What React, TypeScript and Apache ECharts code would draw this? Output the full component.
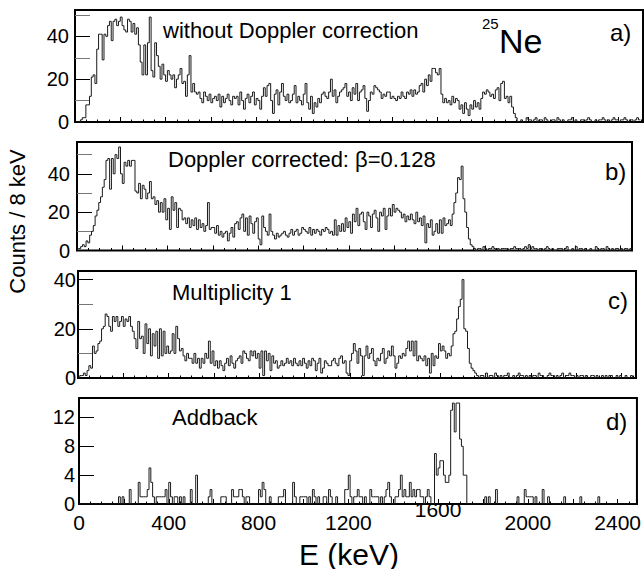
import React, { useEffect, useRef } from 'react';
import * as echarts from 'echarts';

const BIN_WIDTH = 8; // keV per bin

// a) without Doppler correction (counts per 8 keV bin, starting at 0 keV)
const COUNTS_A = [
  0, 0, 0, 1, 2, 2, 8, 8, 12, 21,
  22, 18, 34, 41, 41, 29, 41, 40, 45, 47,
  38, 47, 48, 45, 47, 49, 45, 43, 42, 48,
  47, 42, 46, 41, 44, 36, 28, 22, 36, 22,
  37, 49, 24, 21, 37, 31, 26, 20, 27, 22,
  19, 24, 22, 20, 22, 16, 20, 22, 25, 18,
  19, 12, 22, 31, 14, 18, 14, 13, 14, 11,
  9, 14, 12, 10, 13, 9, 11, 12, 10, 13,
  7, 12, 9, 11, 13, 10, 8, 12, 11, 12,
  8, 14, 10, 6, 11, 13, 9, 12, 14, 8,
  11, 10, 6, 12, 16, 12, 17, 18, 10, 4,
  13, 15, 8, 14, 18, 12, 10, 13, 9, 10,
  13, 17, 9, 12, 10, 8, 13, 18, 9, 6,
  12, 4, 9, 7, 11, 9, 13, 14, 12, 11,
  14, 20, 12, 15, 9, 12, 14, 15, 16, 18,
  12, 14, 10, 16, 13, 18, 10, 14, 15, 17,
  11, 5, 10, 14, 13, 17, 16, 15, 14, 11,
  13, 12, 14, 14, 11, 12, 11, 10, 12, 11,
  14, 12, 11, 14, 13, 15, 12, 15, 13, 14,
  17, 18, 14, 20, 17, 22, 19, 25, 25, 23,
  22, 25, 13, 9, 11, 9, 10, 8, 12, 9,
  11, 10, 6, 8, 4, 9, 6, 3, 8, 6,
  10, 7, 9, 6, 11, 14, 13, 15, 14, 12,
  13, 11, 15, 16, 10, 18, 19, 11, 12, 9,
  12, 7, 4, 2, 0, 0, 1, 0, 0, 2,
  1, 1, 0, 1, 2, 0, 1, 1, 0, 2,
  1, 0, 0, 1, 1, 0, 2, 1, 0, 1,
  0, 0, 1, 1, 2, 0, 1, 0, 0, 1,
  1, 0, 1, 2, 1, 0, 0, 1, 0, 1,
  1, 2, 1, 0, 1, 0, 1, 2, 1, 1,
  0, 1, 1, 2, 1, 0, 1, 1, 0, 1,
  2, 1,
];

// b) Doppler corrected, beta = 0.128
const COUNTS_B = [
  1, 1, 2, 3, 2, 5, 4, 8, 10, 13,
  18, 21, 25, 28, 33, 37, 47, 48, 32, 48,
  40, 50, 48, 54, 40, 35, 46, 44, 47, 44,
  47, 47, 31, 30, 35, 27, 34, 32, 27, 30,
  36, 27, 28, 24, 26, 20, 25, 20, 27, 16,
  22, 11, 28, 21, 25, 12, 22, 21, 16, 17,
  14, 17, 12, 16, 13, 17, 11, 16, 12, 14,
  10, 13, 25, 11, 12, 12, 9, 13, 8, 10,
  7, 9, 10, 5, 9, 12, 7, 14, 15, 11,
  17, 19, 10, 17, 8, 18, 14, 9, 15, 17,
  6, 3, 18, 12, 10, 8, 19, 10, 8, 6,
  9, 7, 8, 9, 10, 8, 7, 9, 11, 8,
  10, 11, 8, 9, 12, 11, 10, 9, 12, 8,
  11, 9, 11, 10, 8, 11, 10, 12, 11, 9,
  10, 8, 16, 8, 13, 10, 14, 10, 17, 12,
  15, 9, 19, 15, 22, 13, 19, 20, 15, 11,
  20, 18, 12, 19, 21, 17, 10, 20, 18, 22,
  11, 18, 22, 18, 24, 20, 22, 21, 20, 17,
  19, 15, 18, 16, 19, 16, 14, 20, 15, 17,
  13, 18, 4, 14, 12, 16, 8, 10, 14, 9,
  16, 9, 17, 13, 14, 16, 13, 19, 25, 30,
  38, 37, 44, 27, 20, 12, 6, 3, 2, 1,
  0, 1, 1, 0, 2, 1, 0, 1, 1, 2,
  1, 0, 1, 0, 1, 1, 1, 1, 0, 1,
  1, 2, 1, 1, 1, 0, 1, 2, 1, 3,
  1, 2, 1, 1, 0, 1, 1, 0, 1, 2,
  1, 0, 1, 0, 0, 1, 1, 1, 0, 1,
  2, 0, 0, 1, 0, 2, 0, 1, 1, 0,
  1, 0, 0, 1, 0, 0, 2, 1, 0, 1,
  1, 0, 2, 1, 0, 1, 0, 1, 1, 0,
  1, 0, 1, 1, 0, 1,
];

// c) Multiplicity 1
const COUNTS_C = [
  0, 1, 1, 2, 1, 3, 5, 4, 13, 10,
  11, 14, 15, 20, 21, 26, 25, 21, 19, 25,
  23, 25, 21, 23, 25, 21, 24, 23, 25, 21,
  19, 16, 12, 23, 16, 17, 10, 22, 14, 20,
  9, 18, 13, 19, 8, 20, 9, 19, 10, 13,
  10, 11, 18, 10, 21, 16, 11, 12, 9, 7,
  10, 8, 8, 6, 10, 6, 8, 4, 8, 6,
  10, 8, 15, 6, 11, 5, 7, 4, 7, 5,
  3, 6, 8, 5, 9, 6, 4, 7, 8, 9,
  6, 11, 10, 8, 7, 11, 9, 11, 8, 10,
  4, 11, 1, 11, 7, 10, 3, 9, 6, 7,
  4, 5, 7, 5, 6, 8, 6, 7, 5, 8,
  6, 5, 7, 5, 8, 6, 4, 7, 5, 8,
  7, 3, 6, 8, 2, 4, 7, 6, 5, 5,
  7, 8, 6, 5, 8, 9, 6, 7, 2, 1,
  7, 10, 14, 11, 6, 12, 9, 1, 9, 13,
  8, 10, 12, 7, 5, 8, 7, 10, 12, 6,
  8, 11, 9, 13, 9, 4, 6, 9, 8, 10,
  9, 12, 15, 11, 15, 9, 15, 7, 9, 8,
  7, 9, 5, 8, 2, 10, 5, 9, 8, 14,
  11, 13, 11, 8, 10, 9, 13, 18, 19, 24,
  29, 32, 40, 20, 19, 12, 6, 4, 3, 2,
  1, 0, 1, 1, 0, 2, 0, 1, 1, 0,
  2, 1, 0, 1, 0, 1, 1, 2, 0, 0,
  1, 0, 1, 2, 1, 1, 0, 1, 0, 1,
  0, 1, 1, 0, 2, 1, 1, 0, 0, 1,
  2, 1, 1, 0, 1, 0, 1, 2, 0, 1,
  1, 2, 1, 1, 0, 1, 0, 1, 1, 0,
  1, 0, 0, 1, 1, 0, 1, 0, 0, 1,
  0, 1, 0, 1, 1, 0, 0, 1, 0, 1,
  0, 0, 1, 0, 0, 1, 0, 0,
];

// d) Addback
const COUNTS_D = [
  0, 0, 0, 0, 0, 0, 0, 0, 0, 0,
  0, 0, 0, 0, 0, 0, 0, 0, 0, 0,
  0, 0, 1, 0, 1, 0, 0, 0, 2, 0,
  0, 0, 0, 3, 1, 1, 1, 1, 2, 5,
  3, 1, 0, 1, 1, 1, 1, 1, 2, 0,
  3, 1, 0, 1, 1, 0, 1, 0, 1, 0,
  0, 0, 2, 0, 0, 4, 0, 0, 0, 0,
  0, 0, 1, 2, 0, 0, 0, 0, 0, 1,
  1, 1, 0, 0, 0, 2, 1, 1, 1, 2,
  2, 1, 0, 1, 1, 0, 0, 0, 0, 0,
  2, 1, 3, 2, 0, 0, 1, 0, 0, 0,
  0, 1, 1, 1, 2, 0, 0, 0, 0, 3,
  1, 0, 0, 1, 1, 1, 1, 0, 1, 0,
  2, 1, 0, 1, 0, 0, 1, 1, 0, 2,
  1, 0, 0, 1, 0, 0, 0, 0, 2, 2,
  4, 1, 0, 1, 1, 2, 1, 1, 0, 1,
  0, 0, 2, 1, 1, 1, 1, 0, 1, 0,
  1, 2, 3, 1, 0, 0, 1, 1, 2, 4,
  1, 2, 1, 1, 3, 1, 2, 1, 2, 2,
  1, 1, 0, 1, 2, 1, 0, 0, 7, 4,
  5, 6, 6, 4, 3, 3, 4, 13, 14, 10,
  14, 14, 9, 8, 4, 4, 0, 0, 0, 0,
  0, 0, 0, 0, 0, 0, 1, 0, 1, 0,
  0, 0, 2, 0, 0, 0, 0, 0, 0, 0,
  0, 0, 0, 0, 1, 0, 0, 0, 2, 1,
  1, 1, 1, 0, 1, 0, 0, 0, 2, 0,
  0, 1, 0, 0, 0, 0, 0, 0, 0, 0,
  1, 0, 0, 0, 0, 0, 0, 0, 0, 1,
  0, 0, 0, 0, 0, 0, 0, 0, 0, 1,
  0, 0, 0, 0, 0, 0, 0, 0, 0, 0,
  0, 0, 0, 0, 0, 0, 0, 0, 0, 0,
  0,
];

const X_LABEL_STEP = 400;
const X_RAISED_LABEL = 1600;
const PANEL_TITLES = ['without Doppler correction', 'Doppler corrected: β=0.128', 'Multiplicity 1', 'Addback'];
const PANEL_TAGS = ['a)', 'b)', 'c)', 'd)'];
const NUCLEUS_MASS = '25';
const NUCLEUS_SYMBOL = 'Ne';
const Y_TITLE = 'Counts / 8 keV';
const X_TITLE = 'E (keV)';

const FONT = '"Liberation Sans", Arial, Helvetica, sans-serif';

const PANELS = [
  { counts: COUNTS_A, left: 75, top: 10, width: 568, height: 112, xMax: 2508, yMax: 52.3, yMinor: 10, yMajor: 20, labelMargin: 6, titleX: 163, titleY: 30, tagX: 610, tagY: 32 },
  { counts: COUNTS_B, left: 77, top: 142, width: 555, height: 108.5, xMax: 2450, yMax: 56.6, yMinor: 10, yMajor: 20, labelMargin: 7, titleX: 168, titleY: 159, tagX: 605, tagY: 171 },
  { counts: COUNTS_C, left: 78, top: 271, width: 558, height: 107, xMax: 2464, yMax: 43.5, yMinor: 10, yMajor: 20, labelMargin: 2, titleX: 172, titleY: 292, tagX: 608, tagY: 300 },
  { counts: COUNTS_D, left: 79, top: 398, width: 563, height: 106, xMax: 2486, yMax: 14.7, yMinor: 4, yMajor: 4, labelMargin: 4, titleX: 172, titleY: 417, tagX: 606, tagY: 421 },
];

function buildOption() {
  const grid: any[] = [];
  const xAxis: any[] = [];
  const yAxis: any[] = [];
  const series: any[] = [];
  const graphic: any[] = [];

  PANELS.forEach((p, i) => {
    const isLast = i === PANELS.length - 1;
    grid.push({
      left: p.left, top: p.top, width: p.width, height: p.height,
      show: true, borderColor: '#000', borderWidth: 2, backgroundColor: 'transparent',
    });
    // minor x ticks (50 keV)
    const xMinorIdx = xAxis.length;
    xAxis.push({
      gridIndex: i, type: 'value', min: 0, max: p.xMax, interval: 50, position: 'bottom',
      axisLine: { show: false }, splitLine: { show: false },
      axisTick: { show: true, inside: true, length: 2.5, lineStyle: { color: '#000', width: 1 } },
      axisLabel: { show: false },
    });
    // major x ticks (200 keV) + labels
    xAxis.push({
      gridIndex: i, type: 'value', min: 0, max: p.xMax, interval: 200, position: 'bottom',
      axisLine: { show: false }, splitLine: { show: false },
      axisTick: { show: true, inside: true, length: 5, lineStyle: { color: '#000', width: 1 } },
      axisLabel: isLast
        ? {
            show: true, fontSize: 21, fontFamily: FONT, color: '#000', margin: 8,
            formatter: (v: number) => (v % X_LABEL_STEP === 0 && v !== X_RAISED_LABEL ? String(v) : ''),
          }
        : { show: false },
    });
    if (isLast) {
      xAxis.push({
        gridIndex: i, type: 'value', min: 0, max: p.xMax, interval: X_LABEL_STEP, position: 'bottom',
        axisLine: { show: false }, splitLine: { show: false }, axisTick: { show: false },
        axisLabel: {
          show: true, fontSize: 21, fontFamily: FONT, color: '#000', margin: -5,
          formatter: (v: number) => (v === X_RAISED_LABEL ? String(v) : ''),
        },
      });
    }
    // y axes
    if (p.yMinor !== p.yMajor) {
      yAxis.push({
        gridIndex: i, type: 'value', min: 0, max: p.yMax, interval: p.yMinor, position: 'left',
        axisLine: { show: false }, splitLine: { show: false },
        axisTick: { show: true, inside: true, length: 15, lineStyle: { color: '#777', width: 1 } },
        axisLabel: { show: false },
      });
    }
    const yMajorIdx = yAxis.length;
    yAxis.push({
      gridIndex: i, type: 'value', min: 0, max: p.yMax, interval: p.yMajor, position: 'left',
      axisLine: { show: false }, splitLine: { show: false },
      axisTick: { show: true, inside: true, length: 15, lineStyle: { color: '#000', width: 1 } },
      axisLabel: {
        show: true, fontSize: 20, fontFamily: FONT, color: '#000', margin: p.labelMargin,
        formatter: (v: number) => (Math.abs(v % p.yMajor) < 1e-6 ? String(v) : ''),
      },
    });

    const data: number[][] = p.counts.map((c, k) => [k * BIN_WIDTH, c]);
    data.push([p.counts.length * BIN_WIDTH, p.counts[p.counts.length - 1]]);
    series.push({
      type: 'line', xAxisIndex: xMinorIdx, yAxisIndex: yMajorIdx, data,
      step: 'end', symbol: 'none', showSymbol: false, silent: true, clip: true,
      lineStyle: { color: '#1a1a1a', width: 1 },
    });

    graphic.push({
      type: 'text', x: p.titleX, y: p.titleY, silent: true,
      style: { text: PANEL_TITLES[i], fontSize: 22, fontFamily: FONT, fill: '#000', align: 'left', verticalAlign: 'middle' },
    });
    graphic.push({
      type: 'text', x: p.tagX, y: p.tagY, silent: true,
      style: { text: PANEL_TAGS[i], fontSize: 24, fontFamily: FONT, fill: '#000', align: 'left', verticalAlign: 'middle' },
    });
  });

  graphic.push({
    type: 'text', x: 482, y: 23, silent: true,
    style: { text: NUCLEUS_MASS, fontSize: 15, fontFamily: FONT, fill: '#000', align: 'left', verticalAlign: 'middle' },
  });
  graphic.push({
    type: 'text', x: 499, y: 41, silent: true,
    style: { text: NUCLEUS_SYMBOL, fontSize: 34, fontFamily: FONT, fill: '#000', align: 'left', verticalAlign: 'middle' },
  });
  graphic.push({
    type: 'text', x: 17.5, y: 221.5, rotation: Math.PI / 2, silent: true,
    style: { text: Y_TITLE, fontSize: 22, fontFamily: FONT, fill: '#000', align: 'center', verticalAlign: 'middle' },
  });
  graphic.push({
    type: 'text', x: 349, y: 554, silent: true,
    style: { text: X_TITLE, fontSize: 30, fontFamily: FONT, fill: '#000', align: 'center', verticalAlign: 'middle' },
  });

  return { animation: false, backgroundColor: '#fff', grid, xAxis, yAxis, series, graphic };
}

export default function App() {
  const ref = useRef<HTMLDivElement>(null);
  useEffect(() => {
    document.body.style.margin = '0';
    if (!ref.current) return;
    const chart = echarts.init(ref.current, undefined, { renderer: 'svg' });
    chart.setOption(buildOption() as any);
    return () => chart.dispose();
  }, []);
  return <div ref={ref} style={{ width: 644, height: 569 }} />;
}
